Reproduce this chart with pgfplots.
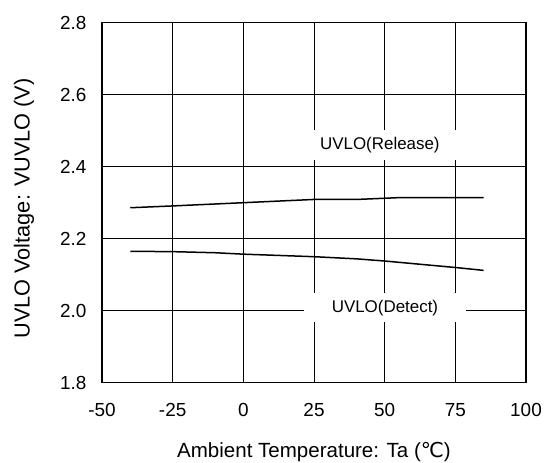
\documentclass[border=0pt]{standalone}
\usepackage{fontspec}
\setmainfont{Liberation Sans}
\newfontfamily\dejavu{DejaVu Sans}
\usepackage{pgfplots}
\pgfplotsset{compat=1.18}
\begin{document}
\begin{tikzpicture}[x=1bp,y=1bp]
\path[use as bounding box] (0,0) rectangle (552,463);
\begin{axis}[
  at={(102bp,80.3bp)}, anchor=south west,
  scale only axis, width=424bp, height=360bp,
  xmin=-50, xmax=100, ymin=1.8, ymax=2.8,
  xtick={-50,-25,0,25,50,75,100},
  ytick={1.8,2.0,2.2,2.4,2.6,2.8},
  /pgf/number format/assume math mode=true,
  yticklabel style={/pgf/number format/fixed,/pgf/number format/fixed zerofill,/pgf/number format/precision=1, font=\fontsize{19}{22}\selectfont, xshift=-12bp},
  xticklabel style={font=\fontsize{19}{22}\selectfont, yshift=-17bp},
  grid=major,
  major grid style={black, line width=0.9bp},
  axis line style={black, line width=1.3bp},
  tick style={draw=none},
  xlabel={Ambient Temperature: Ta ({\dejavu ℃})},
  ylabel={UVLO Voltage: VUVLO (V)},
  xlabel style={font=\fontsize{20.6}{24}\selectfont, at={(axis description cs:0.5,-0.209)}, anchor=base},
  ylabel style={font=\fontsize{21.8}{26}\selectfont, at={(axis description cs:-0.184,0.484)}, anchor=center},
]
\addplot[black, line width=1.5bp] coordinates {
(-40,2.286) (-25,2.291) (0,2.300) (25,2.309) (40,2.309) (55,2.314) (85,2.314)};
\addplot[black, line width=1.5bp] coordinates {
(-40,2.165) (-25,2.164) (-10,2.161) (0,2.157) (25,2.150) (40,2.144) (50,2.138) (75,2.120) (85,2.112)};
\node[fill=white, inner sep=0pt, minimum width=162bp, minimum height=30bp, font=\fontsize{17}{20}\selectfont] at (axis cs:48.3,2.46) {UVLO(Release)};
\node[fill=white, inner sep=0pt, minimum width=162bp, minimum height=29bp, font=\fontsize{17}{20}\selectfont] at (axis cs:50.1,2.0075) {UVLO(Detect)};
\end{axis}
\end{tikzpicture}
\end{document}
